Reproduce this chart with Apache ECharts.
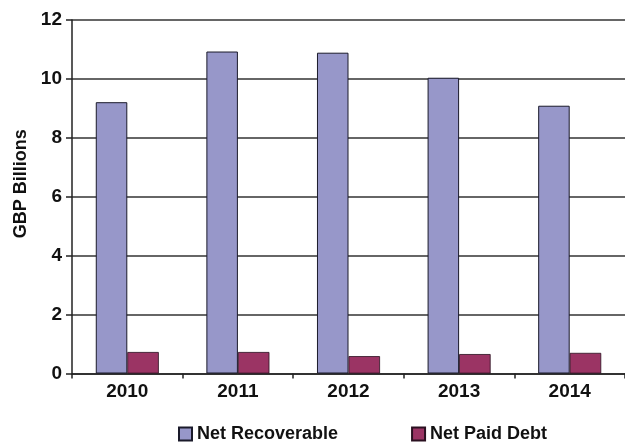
<!DOCTYPE html>
<html>
<head>
<meta charset="utf-8">
<script src="https://cdn.jsdelivr.net/npm/echarts@6/dist/echarts.min.js"></script>
<style>
html,body{margin:0;padding:0;background:#fff;}
#chart{width:625px;height:444px;}
</style>
</head>
<body>
<div id="chart"></div>
<script>
var categories = ['2010', '2011', '2012', '2013', '2014'];
var netRecoverable = [9.21, 10.93, 10.89, 10.04, 9.09];
var netPaidDebt = [0.73, 0.73, 0.59, 0.66, 0.70];
var yTicks = [0, 2, 4, 6, 8, 10, 12];
var seriesNames = ['Net Recoverable', 'Net Paid Debt'];

var FONT = "'Liberation Sans Narrow', 'Arial Narrow', 'Liberation Sans', sans-serif";
var chart = echarts.init(document.getElementById('chart'));
chart.setOption({
  animation: false,
  backgroundColor: '#ffffff',
  textStyle: { fontFamily: FONT },
  legend: {
    data: seriesNames,
    top: 420,
    left: 173,
    itemWidth: 13,
    itemHeight: 13,
    itemGap: 73,
    icon: 'rect',
    textStyle: { fontFamily: FONT, fontSize: 18, color: '#111', fontWeight: 'bold' }
  },
  grid: { left: 72, top: 20, width: 558, height: 353.5 },
  xAxis: {
    type: 'category',
    data: categories,
    axisLine: { lineStyle: { color: '#222', width: 1.5 } },
    axisTick: { show: true, length: 5, lineStyle: { color: '#222', width: 1.5 } },
    axisLabel: { fontFamily: FONT, fontSize: 19, color: '#111', fontWeight: 'bold', margin: 9 }
  },
  yAxis: {
    type: 'value',
    min: yTicks[0],
    max: yTicks[yTicks.length - 1],
    interval: 2,
    name: 'GBP Billions',
    nameLocation: 'middle',
    nameRotate: 90,
    nameGap: 42,
    nameTextStyle: { fontFamily: FONT, fontSize: 18, color: '#111', fontWeight: 'bold', padding: [0, 0, 0, 26] },
    axisLine: { show: true, lineStyle: { color: '#222', width: 1.5 } },
    axisTick: { show: true, length: 6, lineStyle: { color: '#222', width: 1.5 } },
    axisLabel: { fontFamily: FONT, fontSize: 19, color: '#111', fontWeight: 'bold', margin: 10 },
    splitLine: { show: true, lineStyle: { color: '#333', width: 1.5 } }
  },
  series: [
    {
      name: seriesNames[0],
      type: 'bar',
      data: netRecoverable,
      barGap: '0%',
      barCategoryGap: '43%',
      itemStyle: { color: '#9797c9', borderColor: '#1a1a2a', borderWidth: 1 }
    },
    {
      name: seriesNames[1],
      type: 'bar',
      data: netPaidDebt,
      itemStyle: { color: '#9b3464', borderColor: '#2a1020', borderWidth: 0.8 }
    }
  ]
});
</script>
</body>
</html>
